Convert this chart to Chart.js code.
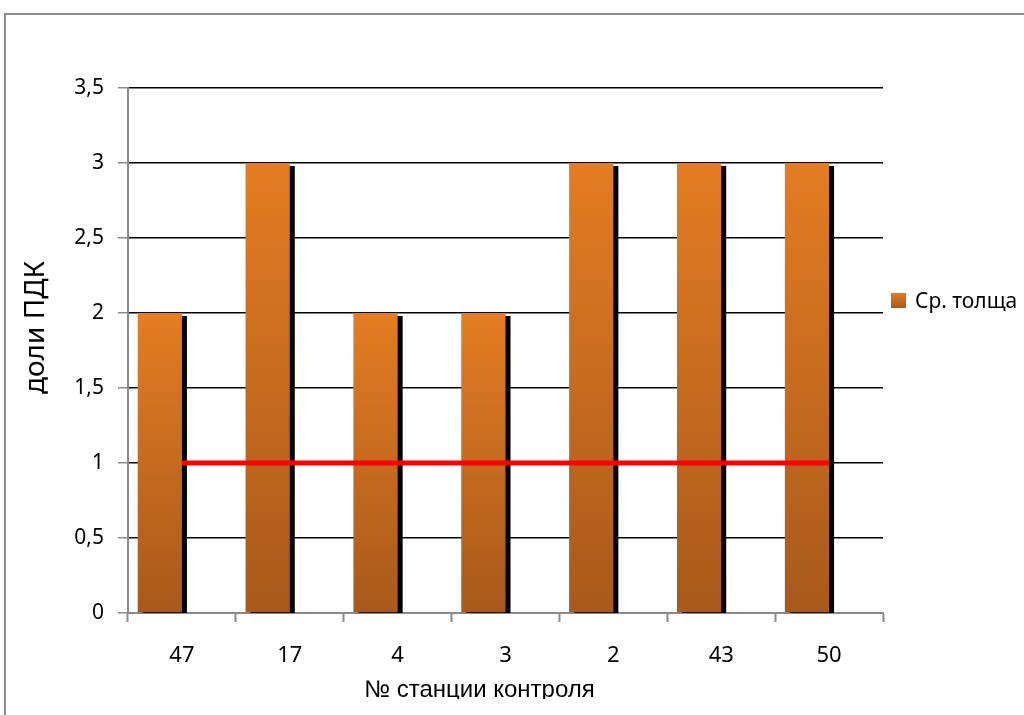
<!DOCTYPE html>
<html lang="ru">
<head>
<meta charset="utf-8">
<title>Ср. толща — доли ПДК</title>
<script src="https://cdn.jsdelivr.net/npm/chart.js@4/dist/chart.umd.min.js"></script>
<style>
  html, body { margin: 0; padding: 0; background: #fff; overflow: hidden; }
  #frame { position: absolute; left: 4px; top: 13px; width: 1100px; height: 800px; border: 2px solid #8c8c8c; }
  #wrap { position: absolute; left: 0; top: 0; width: 1024px; height: 715px; }
  #legend { position: absolute; left: 891px; top: 286px; font: 21px 'Noto Sans', sans-serif; color: #000;
            display: flex; align-items: center; white-space: nowrap; }
  #legend .swatch { width: 15px; height: 15px; margin-right: 9px; background: linear-gradient(#E47C22, #A8591B); }
</style>
</head>
<body>
<div id="frame"></div>
<div id="wrap"><canvas id="chart" width="1024" height="715"></canvas></div>
<div id="legend"></div>
<script>
// stations along the x axis and the measured values
const stations = ['47', '17', '4', '3', '2', '43', '50'];
const avgLayer = [2, 3, 2, 2, 3, 3, 3];        // Ср. толща, доли ПДК
const pdkLevel = [1, 1, 1, 1, 1, 1, 1];        // ПДК
const spareSeries = [0, 0, 0, 0, 0, 0, 0];     // empty second bar slot
const yMax = 3.5;
const yStep = 0.5;

const FONT = "'Noto Sans', 'DejaVu Sans', sans-serif";

// orange bar fill, light at the top of each bar, darker at the base
function barFill(c) {
  const chart = c.chart;
  if (!chart.chartArea || !c.parsed) return '#C86A1F';
  const y = chart.scales.y;
  const top = y.getPixelForValue(c.parsed.y);
  const bottom = y.getPixelForValue(0);
  const g = chart.ctx.createLinearGradient(0, top, 0, bottom);
  g.addColorStop(0, '#E47C22');
  g.addColorStop(1, '#A8591B');
  return g;
}

// hard black shadow to the lower right of the bars
const barShadow = {
  id: 'barShadow',
  beforeDatasetDraw(chart, args) {
    if (args.meta.label !== 'Ср. толща') return;
    const ctx = chart.ctx;
    ctx.save();
    ctx.shadowColor = '#000';
    ctx.shadowOffsetX = 5;
    ctx.shadowOffsetY = 3;
    ctx.shadowBlur = 0;
  },
  afterDatasetDraw(chart, args) {
    if (args.meta.label !== 'Ср. толща') return;
    chart.ctx.restore();
  }
};

// axis titles, placed by hand like in the original sheet
const axisTitles = {
  id: 'axisTitles',
  afterDraw(chart) {
    const { ctx, chartArea: a } = chart;
    ctx.save();
    ctx.fillStyle = '#000';
    ctx.textAlign = 'center';
    ctx.textBaseline = 'middle';
    ctx.font = '28px ' + FONT;
    ctx.translate(a.left - 92, (a.top + a.bottom) / 2 - 23);
    ctx.rotate(-Math.PI / 2);
    ctx.fillText('доли ПДК', 0, 0);
    ctx.restore();

    ctx.save();
    ctx.beginPath();
    ctx.rect(0, 0, chart.width, 699);
    ctx.clip();
    ctx.fillStyle = '#000';
    ctx.textAlign = 'center';
    ctx.textBaseline = 'middle';
    ctx.font = "24px 'Liberation Sans', Arial, sans-serif";
    ctx.fillText('№ станции контроля', (a.left + a.right) / 2 - 26, 690);
    ctx.restore();
  }
};

const chart = new Chart(document.getElementById('chart'), {
  type: 'bar',
  data: {
    labels: stations,
    datasets: [
      {
        type: 'line',
        label: 'ПДК',
        data: pdkLevel,
        borderColor: '#FF0000',
        borderWidth: 5,
        borderCapStyle: 'butt',
        pointRadius: 0,
        pointHoverRadius: 0,
        order: 0
      },
      {
        label: 'Ср. толща',
        data: avgLayer,
        backgroundColor: barFill,
        borderWidth: 0,
        categoryPercentage: 0.82,
        barPercentage: 1,
        clip: 0,
        order: 1
      },
      {
        label: '',
        data: spareSeries,
        backgroundColor: 'rgba(0,0,0,0)',
        borderWidth: 0,
        categoryPercentage: 0.82,
        barPercentage: 1,
        order: 2
      }
    ]
  },
  options: {
    responsive: false,
    animation: false,
    layout: { padding: { top: 88, right: 141, bottom: 0, left: 0 } },
    plugins: {
      legend: { display: false },
      tooltip: { enabled: false }
    },
    scales: {
      x: {
        afterFit(s) { s.height = 102; },
        grid: {
          offset: true,
          drawOnChartArea: false,
          drawTicks: true,
          tickLength: 9,
          tickColor: '#8a8a8a',
          tickWidth: 2
        },
        border: { color: '#8a8a8a', width: 2 },
        ticks: { color: '#000', padding: 21, font: { family: FONT, size: 22 } }
      },
      y: {
        min: 0,
        max: yMax,
        afterFit(s) { s.width = 128; },
        grid: {
          color: c => (c.tick && c.tick.value === 0 ? 'rgba(0,0,0,0)' : '#000'),
          lineWidth: 1.5,
          tickLength: 10,
          tickColor: '#8a8a8a',
          tickWidth: 1.5
        },
        border: { color: '#8a8a8a', width: 2 },
        ticks: {
          stepSize: yStep,
          color: '#000',
          padding: 14,
          font: { family: FONT, size: 21 },
          callback: v => String(v).replace('.', ',')
        }
      }
    }
  },
  plugins: [barShadow, axisTitles]
});

// legend for the bar series
const legend = document.getElementById('legend');
legend.innerHTML = '<span class="swatch"></span><span></span>';
legend.lastChild.textContent = chart.data.datasets[1].label;
</script>
</body>
</html>
